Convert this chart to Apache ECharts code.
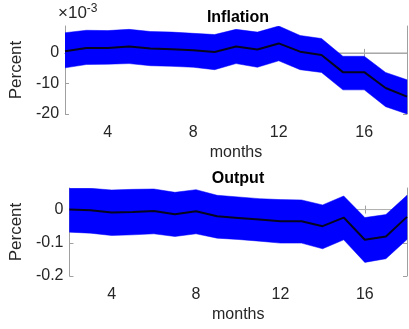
<!DOCTYPE html>
<html>
<head>
<meta charset="utf-8">
<script src="https://cdn.jsdelivr.net/npm/echarts@6/dist/echarts.min.js"></script>
<style>
  html, body { margin: 0; padding: 0; background: #fff; }
  #chart { width: 409px; height: 329px; }
</style>
</head>
<body>
<div id="chart"></div>
<script>
// Impulse responses over the horizon, with confidence bands
const months = [2, 3, 4, 5, 6, 7, 8, 9, 10, 11, 12, 13, 14, 15, 16, 17, 18];

// Inflation, in units of 1e-3 percent
const inflationMid   = [0.5, 1.6, 1.6, 2.1, 1.4, 1.2, 0.9, 0.3, 2.1, 1.1, 3.1, 0.4, -0.7, -6.3, -6.3, -11.5, -14.3];
const inflationUpper = [6.6, 7.4, 7.3, 7.7, 7.0, 6.8, 6.4, 6.0, 7.7, 6.8, 8.8, 5.7, 4.7, -1.1, -1.1, -6.4, -8.8];
const inflationLower = [-4.9, -3.8, -3.7, -3.5, -4.2, -4.4, -4.7, -5.5, -3.5, -4.7, -2.6, -5.5, -6.4, -12.1, -12.1, -17.6, -20.0];

// Output, percent
const outputMid   = [0.000, -0.002, -0.009, -0.007, -0.004, -0.014, -0.005, -0.020, -0.025, -0.030, -0.035, -0.035, -0.050, -0.024, -0.091, -0.081, -0.022];
const outputUpper = [0.064, 0.064, 0.059, 0.061, 0.062, 0.052, 0.060, 0.043, 0.038, 0.033, 0.030, 0.029, 0.014, 0.041, -0.024, -0.015, 0.043];
const outputLower = [-0.068, -0.071, -0.078, -0.076, -0.073, -0.081, -0.073, -0.086, -0.090, -0.095, -0.101, -0.101, -0.118, -0.091, -0.159, -0.148, -0.090];

const xTicks = [4, 8, 12, 16];
const inflationTicks = [-20, -10, 0];
const outputTicks = [-0.2, -0.1, 0];

const FONT = 'Liberation Sans, Arial, sans-serif';
const TEXT = '#262626';
const AXIS = '#a0a0a0';

const pairs = (ys) => months.map((m, i) => [m, ys[i]]);

function xAxes(gridIndex) {
  const base = {
    type: 'value', gridIndex, min: 2, max: 18,
    axisLine: { show: true, lineStyle: { color: AXIS, width: 1 } },
    axisTick: { show: true, inside: true, length: 4, customValues: xTicks, lineStyle: { color: AXIS } },
    splitLine: { show: false }
  };
  return [
    Object.assign({}, base, {
      position: 'bottom',
      axisLabel: { customValues: xTicks, color: TEXT, fontSize: 16, fontFamily: FONT, margin: 11 },
      name: 'months', nameLocation: 'middle', nameGap: 31,
      nameTextStyle: { color: TEXT, fontSize: 16, fontFamily: FONT }
    }),
    Object.assign({}, base, { position: 'top', axisLabel: { show: false } })
  ];
}

function yAxes(gridIndex, min, max, ticks, gap) {
  const base = {
    type: 'value', gridIndex, min, max,
    axisLine: { show: true, lineStyle: { color: AXIS, width: 1 } },
    axisTick: { show: true, inside: true, length: 4, customValues: ticks, lineStyle: { color: AXIS } },
    splitLine: { show: false }
  };
  return [
    Object.assign({}, base, {
      position: 'left',
      axisLabel: { customValues: ticks, formatter: (v) => String(v), color: TEXT, fontSize: 16, fontFamily: FONT, margin: 6 },
      name: 'Percent', nameLocation: 'middle', nameRotate: 90, nameGap: gap,
      nameTextStyle: { color: TEXT, fontSize: 17, fontFamily: FONT }
    }),
    Object.assign({}, base, { position: 'right', axisLabel: { show: false } })
  ];
}

// Confidence band drawn as one polygon: upper edge left-to-right, lower edge back
function bandSeries(xi, yi, lo, hi) {
  return {
    type: 'custom', xAxisIndex: xi, yAxisIndex: yi, silent: true, z: 2,
    data: months.map((m, i) => [m, lo[i], hi[i]]),
    renderItem: function (params, api) {
      if (params.dataIndex !== 0) return null;
      const pts = [];
      for (let i = 0; i < months.length; i++) pts.push(api.coord([months[i], hi[i]]));
      for (let i = months.length - 1; i >= 0; i--) pts.push(api.coord([months[i], lo[i]]));
      return {
        type: 'polygon',
        shape: { points: pts },
        style: { fill: '#0000ff', stroke: '#0000ff', lineWidth: 0.5 }
      };
    },
    clip: true
  };
}

function panel(gridIndex, mid, lo, hi) {
  const xi = gridIndex * 2, yi = gridIndex * 2;
  return [
    {
      type: 'line', xAxisIndex: xi, yAxisIndex: yi, data: [[2, 0], [18, 0]],
      symbol: 'none', silent: true, z: 1,
      lineStyle: { color: '#b4b4b4', width: 1 }
    },
    bandSeries(xi, yi, lo, hi),
    {
      type: 'line', xAxisIndex: xi, yAxisIndex: yi, data: pairs(mid),
      symbol: 'none', silent: true, z: 3,
      lineStyle: { color: '#050520', width: 2 }
    }
  ];
}

const chart = echarts.init(document.getElementById('chart'), null, { renderer: 'canvas' });
chart.setOption({
  animation: false,
  backgroundColor: '#ffffff',
  grid: [
    { left: 57, right: 2, top: 26, height: 88 },
    { left: 57, right: 2, top: 188, height: 88 }
  ],
  title: [
    { text: 'Inflation', left: 233, top: 5, textAlign: 'center',
      textStyle: { color: '#000', fontSize: 16, fontWeight: 'bold', fontFamily: FONT } },
    { text: 'Output', left: 233, top: 166, textAlign: 'center',
      textStyle: { color: '#000', fontSize: 16, fontWeight: 'bold', fontFamily: FONT } }
  ],
  graphic: [
    {
      type: 'text', left: 58, top: 3,
      style: {
        text: '×10{sup|-3}',
        fill: TEXT, font: '17px ' + FONT,
        rich: { sup: { fontSize: 12, fontFamily: FONT, fill: TEXT, verticalAlign: 'top', padding: [0, 0, 9, 0] } }
      }
    }
  ],
  xAxis: [].concat(xAxes(0), xAxes(1)),
  yAxis: [].concat(
    yAxes(0, -20, 8.8, inflationTicks, 40),
    yAxes(1, -0.2, 0.065, outputTicks, 43)
  ),
  series: [].concat(
    panel(0, inflationMid, inflationLower, inflationUpper),
    panel(1, outputMid, outputLower, outputUpper)
  )
});
</script>
</body>
</html>
